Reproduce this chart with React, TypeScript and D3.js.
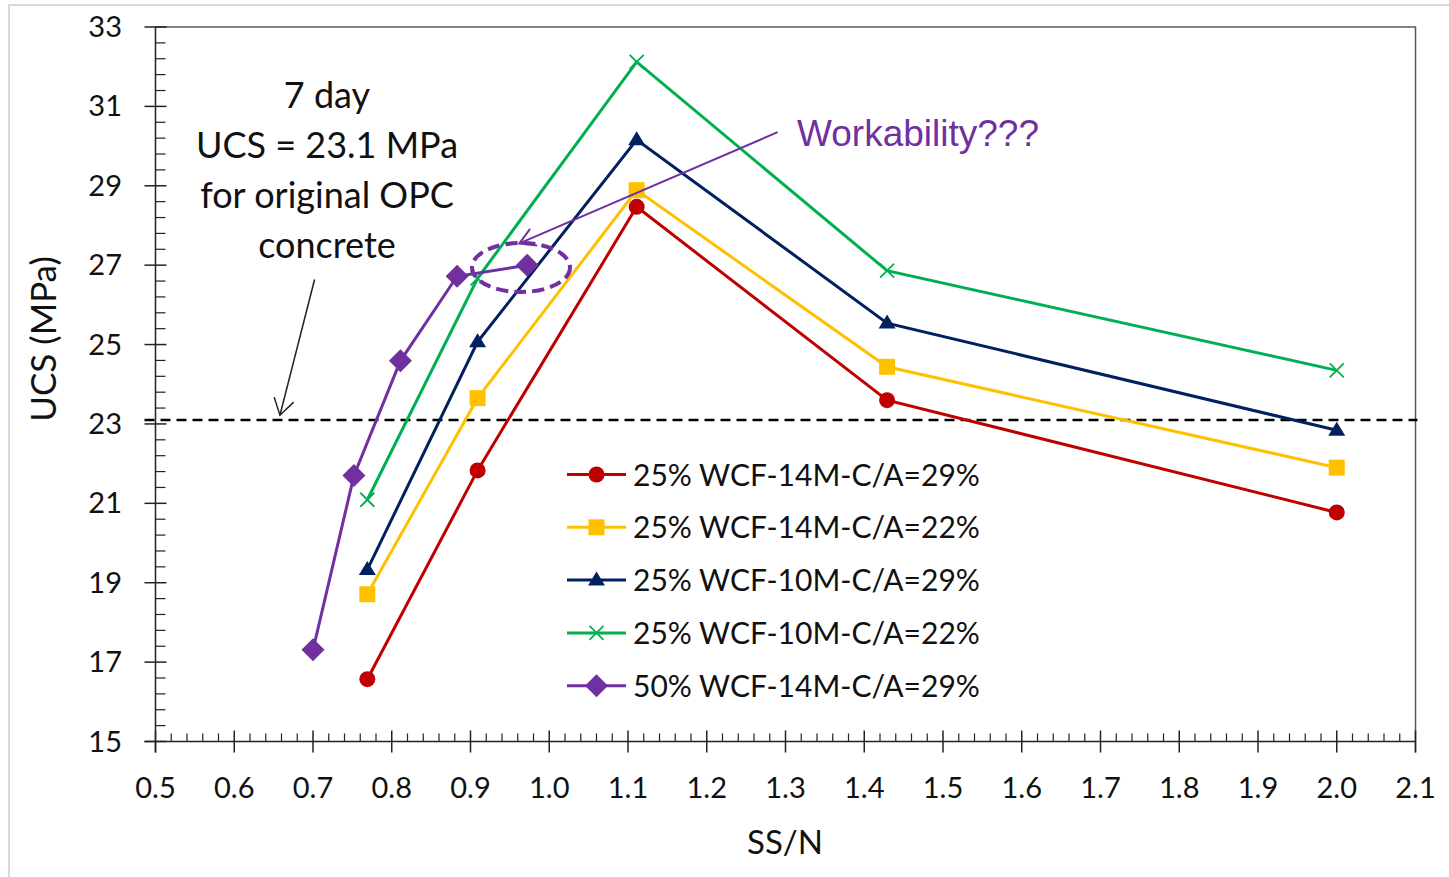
import React from "react";
import * as d3 from "d3";

const W = 1449;
const H = 877;

// axis ticks
const xTicks = [0.5, 0.6, 0.7, 0.8, 0.9, 1.0, 1.1, 1.2, 1.3, 1.4, 1.5, 1.6, 1.7, 1.8, 1.9, 2.0, 2.1];
const yTicks = [15, 17, 19, 21, 23, 25, 27, 29, 31, 33];

// SS/N values shared by the four 25% WCF series
const ssN = [0.769, 0.909, 1.111, 1.429, 2.0];
const red14M29 = [16.57, 21.83, 28.47, 23.6, 20.77];
const yellow14M22 = [18.71, 23.65, 28.89, 24.44, 21.9];
const navy10M29 = [19.33, 25.07, 30.16, 25.54, 22.84];
const green10M22 = [21.09, 26.67, 32.12, 26.86, 24.35];
// 50% WCF series
const purpleSSN = [0.7, 0.752, 0.811, 0.883, 0.972];
const purple14M29 = [17.31, 21.7, 24.59, 26.72, 27.0];

const seriesNames = [
  "25% WCF-14M-C/A=29%",
  "25% WCF-14M-C/A=22%",
  "25% WCF-10M-C/A=29%",
  "25% WCF-10M-C/A=22%",
  "50% WCF-14M-C/A=29%",
];
const seriesColors = ["#c00000", "#ffc000", "#002060", "#00b050", "#7030a0"];
const seriesMarkers = ["circle", "square", "triangle", "x", "diamond"];

const refUCS = 23.1;
const noteLines = ["7 day", "UCS = 23.1 MPa", "for original OPC", "concrete"];
const workabilityText = "Workability???";

const FONT = "Lato, 'Open Sans', sans-serif";

function Marker({ type, cx, cy, color }: { type: string; cx: number; cy: number; color: string }) {
  if (type === "circle") return <circle cx={cx} cy={cy} r={8} fill={color} />;
  if (type === "square") return <rect x={cx - 8} y={cy - 8} width={16} height={16} fill={color} />;
  if (type === "triangle")
    return <path d={`M${cx},${cy - 8.5}L${cx + 8.5},${cy + 5.5}L${cx - 8.5},${cy + 5.5}Z`} fill={color} />;
  if (type === "diamond")
    return <path d={`M${cx},${cy - 11.5}L${cx + 11.5},${cy}L${cx},${cy + 11.5}L${cx - 11.5},${cy}Z`} fill={color} />;
  // x
  return (
    <path
      d={`M${cx - 7},${cy - 7}L${cx + 7},${cy + 7}M${cx - 7},${cy + 7}L${cx + 7},${cy - 7}`}
      stroke={color}
      strokeWidth={1.8}
      fill="none"
    />
  );
}

function arrowHead(tx: number, ty: number, fx: number, fy: number, len: number, angDeg: number) {
  const a = Math.atan2(fy - ty, fx - tx);
  const h = (angDeg * Math.PI) / 180;
  const p1 = [tx + len * Math.cos(a + h), ty + len * Math.sin(a + h)];
  const p2 = [tx + len * Math.cos(a - h), ty + len * Math.sin(a - h)];
  return `M${p1[0]},${p1[1]}L${tx},${ty}L${p2[0]},${p2[1]}`;
}

export default function App() {
  const x = d3.scaleLinear().domain([0.5, 2.1]).range([155.5, 1415.5]);
  const y = d3.scaleLinear().domain([15, 33]).range([741.5, 27]);
  const line = d3
    .line<[number, number]>()
    .x((d) => x(d[0]))
    .y((d) => y(d[1]));

  const series: [number, number][][] = [
    ssN.map((v, i) => [v, red14M29[i]] as [number, number]),
    ssN.map((v, i) => [v, yellow14M22[i]] as [number, number]),
    ssN.map((v, i) => [v, navy10M29[i]] as [number, number]),
    ssN.map((v, i) => [v, green10M22[i]] as [number, number]),
    purpleSSN.map((v, i) => [v, purple14M29[i]] as [number, number]),
  ];

  const xMinor: number[] = [];
  for (let i = 0; i <= 80; i++) if (i % 5 !== 0) xMinor.push(0.5 + i * 0.02);
  const yMinor: number[] = [];
  for (let i = 0; i <= 45; i++) if (i % 5 !== 0) yMinor.push(15 + i * 0.4);

  const x0 = x(0.5);
  const x1 = x(2.1);
  const yb = y(15);
  const yt = y(33);

  // annotation anchors in data space
  const ellC = [x.invert(521), y.invert(267.5)];
  const purpArrowFrom = [1.29, 30.35];
  const purpArrowTo = [0.962, 27.55];
  const blackArrowFrom = [0.702, 26.64];
  const blackArrowTo = [0.658, 23.22];

  const legendX = 567;
  const legendY0 = 474.5;
  const legendDy = 52.8;

  return (
    <svg
      width={W}
      height={H}
      style={{ position: "absolute", left: 0, top: 0, background: "#fff" }}
      fontFamily={FONT}
    >
      <rect x={0} y={0} width={W} height={H} fill="#fff" />
      {/* outer light frame */}
      <path d={`M9,${H}L9,5L${W},5`} stroke="#d9d9d9" strokeWidth={2} fill="none" />

      {/* plot frame top/right */}
      <path d={`M${x0},${yt}L${x1},${yt}L${x1},${yb + 11}`} stroke="#595959" strokeWidth={1.5} fill="none" />

      {/* y axis */}
      <line x1={x0} y1={yt} x2={x0} y2={yb + 11} stroke="#222" strokeWidth={1.5} />
      {yTicks.map((t) => (
        <line key={"ym" + t} x1={x0 - 11} x2={x0 + 11} y1={y(t)} y2={y(t)} stroke="#222" strokeWidth={1.5} />
      ))}
      {yMinor.map((t, i) => (
        <line key={"yn" + i} x1={x0} x2={x0 + 10} y1={y(t)} y2={y(t)} stroke="#222" strokeWidth={1.2} />
      ))}
      {yTicks.map((t) => (
        <text key={"yl" + t} x={122} y={y(t) + 10} textAnchor="end" fontSize={29} fill="#111">
          {t}
        </text>
      ))}

      {/* x axis */}
      <line x1={x0 - 11} y1={yb} x2={x1} y2={yb} stroke="#222" strokeWidth={1.5} />
      {xTicks.map((t) => (
        <line key={"xm" + t} x1={x(t)} x2={x(t)} y1={yb - 11} y2={yb + 11} stroke="#222" strokeWidth={1.5} />
      ))}
      {xMinor.map((t, i) => (
        <line key={"xn" + i} x1={x(t)} x2={x(t)} y1={yb} y2={yb - 8} stroke="#222" strokeWidth={1.2} />
      ))}
      {xTicks.map((t) => (
        <text key={"xl" + t} x={x(t)} y={798} textAnchor="middle" fontSize={29} fill="#111">
          {t.toFixed(1)}
        </text>
      ))}

      {/* axis titles */}
      <text x={785} y={854} textAnchor="middle" fontSize={33} fill="#111">
        SS/N
      </text>
      <text
        transform={`translate(56,339) rotate(-90)`}
        textAnchor="middle"
        fontSize={35}
        fill="#111"
      >
        UCS (MPa)
      </text>

      {/* reference line */}
      <line
        x1={x0 - 11}
        x2={x1 + 2}
        y1={y(refUCS)}
        y2={y(refUCS)}
        stroke="#000"
        strokeWidth={2.5}
        strokeDasharray="10,6"
      />

      {/* series */}
      {series.map((s, si) => (
        <g key={"s" + si}>
          <path d={line(s) || ""} fill="none" stroke={seriesColors[si]} strokeWidth={3} />
          {s.map((d, i) => (
            <Marker key={i} type={seriesMarkers[si]} cx={x(d[0])} cy={y(d[1])} color={seriesColors[si]} />
          ))}
        </g>
      ))}

      {/* legend */}
      {seriesNames.map((n, i) => {
        const cy = legendY0 + i * legendDy;
        return (
          <g key={"lg" + i}>
            <line x1={legendX} x2={legendX + 59} y1={cy} y2={cy} stroke={seriesColors[i]} strokeWidth={3} />
            <Marker type={seriesMarkers[i]} cx={legendX + 29.5} cy={cy} color={seriesColors[i]} />
            <text x={633} y={cy + 11} fontSize={30} fill="#111">
              {n}
            </text>
          </g>
        );
      })}

      {/* note */}
      {noteLines.map((t, i) => (
        <text key={"n" + i} x={327} y={108 + i * 50} textAnchor="middle" fontSize={36} fill="#111">
          {t}
        </text>
      ))}
      <line
        x1={x(blackArrowFrom[0])}
        y1={y(blackArrowFrom[1])}
        x2={x(blackArrowTo[0])}
        y2={y(blackArrowTo[1])}
        stroke="#222"
        strokeWidth={1.5}
      />
      <path
        d={arrowHead(x(blackArrowTo[0]), y(blackArrowTo[1]), x(blackArrowFrom[0]), y(blackArrowFrom[1]), 19, 32)}
        stroke="#222"
        strokeWidth={1.5}
        fill="none"
      />

      {/* workability annotation */}
      <ellipse
        cx={x(ellC[0])}
        cy={y(ellC[1])}
        rx={49}
        ry={24.5}
        fill="none"
        stroke="#7030a0"
        strokeWidth={4}
        strokeDasharray="12,6"
      />
      <line
        x1={x(purpArrowFrom[0])}
        y1={y(purpArrowFrom[1])}
        x2={x(purpArrowTo[0])}
        y2={y(purpArrowTo[1])}
        stroke="#7030a0"
        strokeWidth={2}
      />
      <path
        d={arrowHead(x(purpArrowTo[0]), y(purpArrowTo[1]), x(purpArrowFrom[0]), y(purpArrowFrom[1]), 18, 30)}
        stroke="#7030a0"
        strokeWidth={2}
        fill="none"
      />
      <text x={797} y={146} fontSize={37} fill="#7030a0" fontFamily="'Liberation Sans', Arial, sans-serif">
        {workabilityText}
      </text>
    </svg>
  );
}
